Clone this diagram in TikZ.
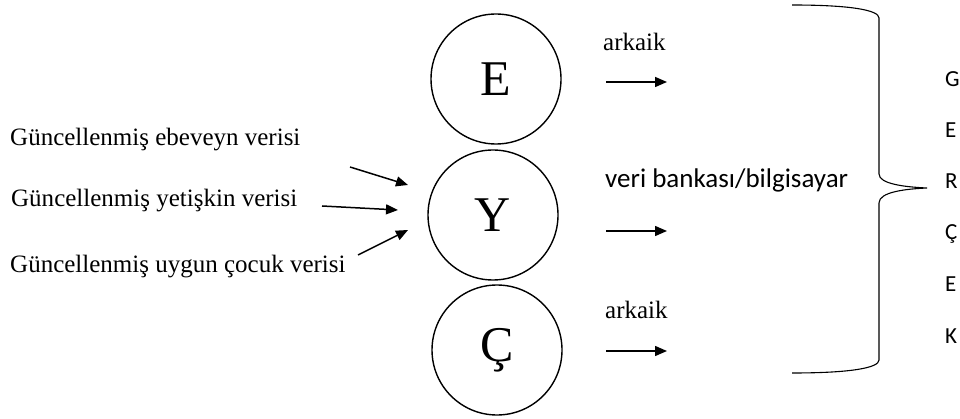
\documentclass[tikz,border=0pt]{standalone}
\usepackage{fontspec}
\setmainfont{Liberation Serif}
\newfontfamily\calib{Carlito}
\usetikzlibrary{arrows.meta}
\begin{document}
\begin{tikzpicture}[x=1pt,y=-1pt,
  circ/.style={draw,circle,line width=1.4pt,minimum size=130pt,inner sep=0pt,font=\fontsize{50}{50}\selectfont},
  lbl/.style={anchor=base west,inner sep=0pt,font=\fontsize{25}{25}\selectfont},
  sans/.style={anchor=base west,inner sep=0pt,font=\calib\fontsize{27}{27}\selectfont},
  gl/.style={anchor=base west,inner sep=0pt,font=\calib\fontsize{23}{23}\selectfont},
  arr/.style={line width=1.5pt,-{Triangle[length=12pt,width=10pt]}}]
\useasboundingbox (0,0) rectangle (960,419);
\node[circ] (E) at (496,79) {E};
\node[circ] (Y) at (493,215) {Y};
\node[circ] (C) at (497,350) {Ç};
\node[lbl] (l1) at (10,146) {Güncellenmiş ebeveyn verisi};
\node[lbl] (l2) at (11,207) {Güncellenmiş yetişkin verisi};
\node[lbl] (l3) at (10,273) {Güncellenmiş uygun çocuk verisi};
\node[lbl] (a1) at (603,51) {arkaik};
\node[lbl] (a3) at (605,318) {arkaik};
\node[sans] (vb) at (605,188) {veri bankası/bilgisayar};
\coordinate (s1) at (350,167); \coordinate (t1) at (408,185);
\coordinate (s2) at (322,206); \coordinate (t2) at (398,210);
\coordinate (s3) at (358,255); \coordinate (t3) at (408,230);
\draw[arr] (s1) -- (t1);
\draw[arr] (s2) -- (t2);
\draw[arr] (s3) -- (t3);
\coordinate (r1) at (606,82); \coordinate (q1) at (667,82);
\coordinate (r2) at (606,231); \coordinate (q2) at (667,231);
\coordinate (r3) at (606,351); \coordinate (q3) at (667,351);
\draw[arr] (r1) -- (q1);
\draw[arr] (r2) -- (q2);
\draw[arr] (r3) -- (q3);
\draw[line width=1.1pt] (792,5) .. controls (850,5) and (879,10) .. (879,18) -- (879,174)
  .. controls (879,184) and (905,187) .. (927,188)
  .. controls (905,189) and (879,192) .. (879,203) -- (879,360)
  .. controls (879,368) and (850,373) .. (792,373);
\node[gl] (g1) at (945,87) {G};
\node[gl] (g2) at (945,138) {E};
\node[gl] (g3) at (945,189) {R};
\node[gl] (g4) at (945,240) {Ç};
\node[gl] (g5) at (945,292) {E};
\node[gl] (g6) at (945,343) {K};
\end{tikzpicture}
\end{document}
